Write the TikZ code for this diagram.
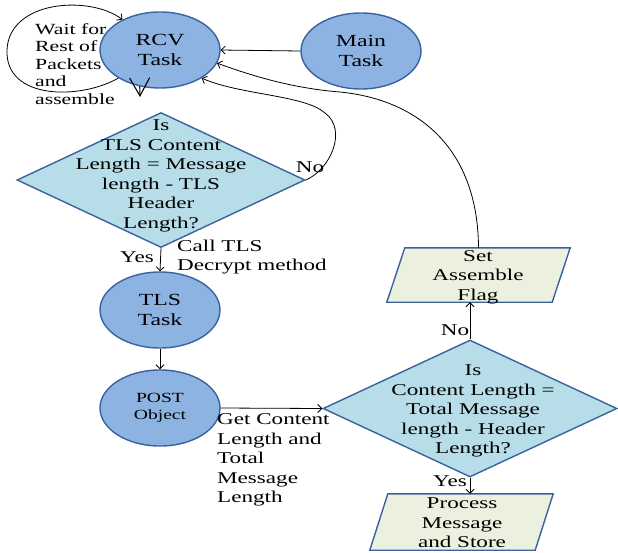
\documentclass[tikz,border=0pt]{standalone}
\usepackage{fontspec}
\setmainfont{Liberation Serif}[FakeStretch=1.4]
\usetikzlibrary{shapes.geometric,arrows.meta}
\definecolor{ellfill}{RGB}{141,179,226}
\definecolor{shapeborder}{RGB}{58,98,158}
\definecolor{diafill}{RGB}{183,221,232}
\definecolor{parafill}{RGB}{235,241,222}
\begin{document}
\begin{tikzpicture}[x=1pt,y=-1pt,
  task/.style={ellipse, draw=shapeborder, fill=ellfill, line width=1.4pt, minimum width=120pt, minimum height=76pt, inner sep=0pt, align=center, font=\fontsize{17}{20}\selectfont},
  decision/.style={diamond, draw=shapeborder, fill=diafill, line width=1.4pt, inner sep=0pt},
  iobody/.style={rectangle, draw=none, inner sep=0pt, minimum width=165pt},
  iofill/.style={draw=shapeborder, fill=parafill, line width=1.4pt, line join=miter},
  txt/.style={font=\fontsize{16.5}{19.5}\selectfont, align=center, inner sep=0pt},
  arr/.style={-{Straight Barb[length=4pt,width=8pt]}, line width=0.8pt},
  bigv/.style={-{Straight Barb[length=18pt,width=20pt]}, line width=1.1pt},
]
\useasboundingbox (0,0) rectangle (618,552);
% shapes
\node[task] (rcv) at (160,50) {RCV\\Task};
\node[task] (main) at (361,51) {Main\\Task};
\node[task] (tls) at (160,310) {TLS\\Task};
\node[task, font=\fontsize{14}{17}\selectfont] (post) at (160,408) {POST\\Object};
\node[decision, minimum width=288pt, minimum height=135pt] (d1) at (161,180) {};
\node[txt] (d1txt) at (161,176) {Is\\TLS Content\\Length = Message\\length - TLS\\Header\\Length?};
\node[decision, minimum width=294pt, minimum height=137pt] (d2) at (470,408.5) {};
\node[txt] (d2txt) at (473,411) {Is\\Content Length =\\Total Message\\length - Header\\Length?};
\node[iobody, minimum height=54pt] (set) at (478.5,275) {};
\draw[iofill] ([xshift=9pt]set.north west) -- ([xshift=9pt]set.north east) -- ([xshift=-9pt]set.south east) -- ([xshift=-9pt]set.south west) -- cycle;
\node[txt] (settxt) at (478,277) {Set\\Assemble\\Flag};
\node[iobody, minimum height=56pt] (proc) at (461.5,522) {};
\draw[iofill] ([xshift=9pt]proc.north west) -- ([xshift=9pt]proc.north east) -- ([xshift=-9pt]proc.south east) -- ([xshift=-9pt]proc.south west) -- cycle;
\node[txt] (proctxt) at (462,523) {Process\\Message\\and Store};
% labels
\node[txt, font=\fontsize{15.5}{17.5}\selectfont, align=left, anchor=west] (wait) at (35,64) {Wait for\\Rest of\\Packets\\and\\assemble};
\node[txt] (no1) at (310,167) {No};
\node[txt] (yes1) at (137,257) {Yes};
\node[txt, align=left, anchor=west] (call) at (177,257) {Call TLS\\Decrypt method};
\node[txt, align=left, anchor=west] (get) at (217,460) {Get Content\\Length and\\Total\\Message\\Length};
\node[txt] (no2) at (455,330) {No};
\node[txt] (yes2) at (450,481) {Yes};
% connectors
\coordinate (vtip) at (140,97);
\draw[arr] (main.west) -- (rcv.east);
\draw[arr] (rcv.214) .. controls (80,100) and (5,100) .. (7,50) .. controls (9,0) and (90,-5) .. (rcv.141);
\draw[bigv] (rcv.241) -- (vtip);
\draw[arr] (d1.south) -- (tls.north);
\draw[arr] (tls.south) -- (post.north);
\draw[arr] (post.east) -- (d2.west);
\draw[arr] (d2.south) -- (d2.south |- proc.north);
\draw[arr] (d2.north) -- (d2.north |- set.south);
\draw[arr] (set.north) .. controls (478,150) and (420,100) .. (340,92) .. controls (290,88) and (250,75) .. (rcv.347);
\draw[arr] (d1.east) .. controls (330,170) and (348,130) .. (325,113) .. controls (305,95) and (240,95) .. (rcv.326);
\end{tikzpicture}
\end{document}
